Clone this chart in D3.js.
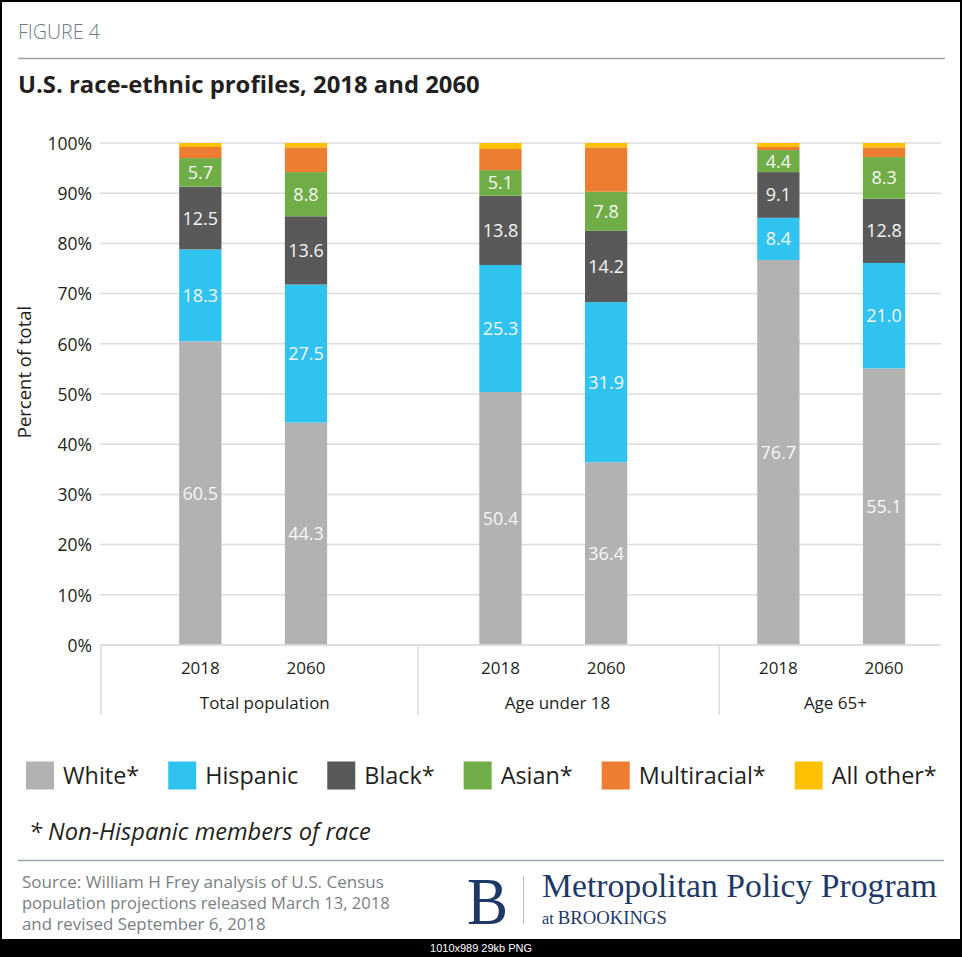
<!DOCTYPE html>
<html>
<head>
<meta charset="utf-8">
<script src="https://cdn.jsdelivr.net/npm/d3@7"></script>
<style>
  html, body { margin: 0; padding: 0; background: #fff; }
  svg { display: block; font-family: "Open Sans", sans-serif; }
</style>
</head>
<body>
<svg id="chart" width="962" height="957"></svg>
<script>
// ---------------- DATA ----------------
const groups = ["Total population", "Age under 18", "Age 65+"];
const years = ["2018", "2060"];
const seriesNames = ["White*", "Hispanic", "Black*", "Asian*", "Multiracial*", "All other*"];
// values in order: Total 2018, Total 2060, U18 2018, U18 2060, 65+ 2018, 65+ 2060
const white       = [60.5, 44.3, 50.4, 36.4, 76.7, 55.1];
const hispanic    = [18.3, 27.5, 25.3, 31.9, 8.4, 21.0];
const black       = [12.5, 13.6, 13.8, 14.2, 9.1, 12.8];
const asian       = [5.7, 8.8, 5.1, 7.8, 4.4, 8.3];
const multiracial = [2.2, 4.9, 4.2, 8.8, 0.6, 1.9];
const allOther    = [0.8, 0.9, 1.2, 0.9, 0.8, 0.9];
const yTicks = [0, 10, 20, 30, 40, 50, 60, 70, 80, 90, 100];
const labeledSeries = ["White*", "Hispanic", "Black*", "Asian*"];

// ---------------- STYLE / LAYOUT ----------------
const colors = ["#b2b2b2", "#31c3f0", "#595959", "#70ad47", "#ed7d31", "#ffc000"];
const textDark = "#231f20";
const gridColor = "#dcdcdc";
const serif = "'Liberation Serif', 'DejaVu Serif', serif";
const plot = { left: 101, right: 939, top: 143, bottom: 645 };
// group widths and bar-pair centers expressed in "bar step" units
const groupSlots = [3.0, 2.85, 2.08];
const pairCenter = [1.44, 1.28, 1.06];
const labelShift = [0.11, 0.04, 0.04];

const svg = d3.select("#chart");

function fit(sel, w) {
  const fs = +sel.attr("font-size");
  const len = sel.node().getComputedTextLength();
  sel.attr("font-size", fs * w / len);
  return sel;
}

// Build rows
const cols = [white, hispanic, black, asian, multiracial, allOther];
const rows = [];
groups.forEach((g, gi) => years.forEach((yr, yi) => {
  const idx = gi * 2 + yi;
  const r = { group: g, year: yr };
  seriesNames.forEach((s, si) => r[s] = cols[si][idx]);
  rows.push(r);
}));

// Scales
const y = d3.scaleLinear().domain([0, 100]).range([plot.bottom, plot.top]);
const totalSlots = d3.sum(groupSlots);
const xs = d3.scaleLinear().domain([0, totalSlots]).range([plot.left, plot.right]);
const groupStart = groupSlots.map((d, i) => d3.sum(groupSlots.slice(0, i)));
const inner = groups.map((g, i) => d3.scaleBand()
  .domain(years)
  .range([xs(groupStart[i] + pairCenter[i] - 1), xs(groupStart[i] + pairCenter[i] + 1)])
  .paddingInner(0.6).paddingOuter(0.3));
const color = d3.scaleOrdinal().domain(seriesNames).range(colors);
const xOf = d => inner[groups.indexOf(d.group)](d.year);
const bw = inner[0].bandwidth();

// Background
svg.append("rect").attr("x", 0).attr("y", 0).attr("width", 962).attr("height", 957).attr("fill", "#fff");

// Header
fit(svg.append("text").attr("x", 18).attr("y", 39).attr("font-size", 19)
  .attr("fill", "#6f7b82").attr("font-weight", 300).text("FIGURE 4"), 82);
svg.append("line").attr("x1", 18).attr("x2", 945).attr("y1", 58.5).attr("y2", 58.5)
  .attr("stroke", "#9ba4a9").attr("stroke-width", 1.5);
fit(svg.append("text").attr("x", 18).attr("y", 93).attr("font-size", 21)
  .attr("font-weight", 700).attr("fill", textDark)
  .text("U.S. race-ethnic profiles, 2018 and 2060"), 462);

// Gridlines
svg.append("g").selectAll("line").data(yTicks).join("line")
  .attr("x1", plot.left - 1).attr("x2", plot.right + 2)
  .attr("y1", d => y(d)).attr("y2", d => y(d))
  .attr("stroke", gridColor).attr("stroke-width", 1.5);

// Y axis via d3 axis (labels only)
const yAxis = svg.append("g").attr("transform", `translate(${plot.left - 9},0)`)
  .call(d3.axisLeft(y).tickValues(yTicks).tickFormat(d => d + "%").tickSize(0));
yAxis.select(".domain").remove();
yAxis.selectAll("text").style("font-family", "'Open Sans', sans-serif").attr("font-size", 17.5)
  .attr("fill", textDark).attr("dx", 0).attr("dy", "0.36em").attr("x", 0);

svg.append("text").attr("transform", "translate(31,372) rotate(-90)")
  .attr("text-anchor", "middle").attr("font-size", 18.5).attr("fill", textDark)
  .text("Percent of total");

// Category axis lines
const dividers = groupStart.map(d => xs(d));
svg.append("g").selectAll("line").data(dividers).join("line")
  .attr("x1", d => d).attr("x2", d => d).attr("y1", plot.bottom).attr("y2", 715)
  .attr("stroke", gridColor).attr("stroke-width", 1.5);

// Stacked bars
const stack = d3.stack().keys(seriesNames);
const layers = stack(rows);
const gBars = svg.append("g");
layers.forEach(layer => {
  gBars.append("g").attr("fill", color(layer.key))
    .selectAll("rect").data(layer).join("rect")
    .attr("x", d => xOf(d.data)).attr("width", bw)
    .attr("y", d => y(d[1])).attr("height", d => y(d[0]) - y(d[1]));
});
// Segment labels
layers.filter(l => labeledSeries.includes(l.key)).forEach(layer => {
  gBars.append("g").selectAll("text").data(layer).join("text")
    .attr("x", d => xOf(d.data) + bw / 2)
    .attr("y", d => y((d[0] + d[1]) / 2))
    .attr("dy", "0.36em").attr("text-anchor", "middle")
    .attr("font-size", 18).attr("fill", "#f7f7f7")
    .text(d => d3.format(".1f")(d[1] - d[0]));
});

// Baseline on top
svg.append("line").attr("x1", plot.left - 1).attr("x2", plot.right + 2)
  .attr("y1", y(0)).attr("y2", y(0)).attr("stroke", gridColor).attr("stroke-width", 1.5);

// Year labels
svg.append("g").selectAll("text").data(rows).join("text")
  .attr("x", d => xOf(d) + bw / 2).attr("y", 674)
  .attr("text-anchor", "middle").attr("font-size", 17).attr("fill", textDark)
  .text(d => d.year);
// Group labels
svg.append("g").selectAll("text").data(groups).join("text")
  .attr("x", (d, i) => xs(groupStart[i] + pairCenter[i] + labelShift[i]))
  .attr("y", 709).attr("text-anchor", "middle").attr("font-size", 17).attr("fill", textDark)
  .text(d => d);

// Legend (flow layout)
const legend = svg.append("g");
const items = seriesNames.map((s, i) => {
  const g = legend.append("g");
  g.append("rect").attr("width", 28).attr("height", 28).attr("y", 761.5).attr("fill", colors[i]);
  const t = g.append("text").attr("y", 784).attr("font-size", 22).attr("fill", textDark).text(s);
  return { g, t };
});
const measured = d3.sum(items, d => d.t.node().getComputedTextLength());
const fsLegend = 22 * 544 / measured;
let lx = 26;
items.forEach(it => {
  it.t.attr("font-size", fsLegend);
  it.g.select("rect").attr("x", lx);
  it.t.attr("x", lx + 37);
  lx += 37 + it.t.node().getComputedTextLength() + 29;
});

// Footnote
fit(svg.append("text").attr("x", 29).attr("y", 840).attr("font-size", 21)
  .attr("font-style", "italic").attr("fill", textDark)
  .text("* Non-Hispanic members of race"), 342);

svg.append("line").attr("x1", 18).attr("x2", 944).attr("y1", 860.5).attr("y2", 860.5)
  .attr("stroke", "#9ba4a9").attr("stroke-width", 1.5);

// Source (each line fitted to its width in the reference)
const srcLines = ["Source: William H Frey analysis of U.S. Census",
  "population projections released March 13, 2018",
  "and revised September 6, 2018"];
const srcWidths = [362, 368, 244];
srcLines.forEach((l, i) => {
  fit(svg.append("text").attr("x", 22).attr("y", 888 + i * 21).attr("font-size", 17)
    .attr("fill", "#7b8084").text(l), srcWidths[i]);
});

// Logo
const navy = "#1f3868";
svg.append("text").attr("x", 467).attr("y", 924).style("font-family", serif)
  .attr("font-size", 68).attr("fill", navy).attr("textLength", 41)
  .attr("lengthAdjust", "spacingAndGlyphs").text("B");
svg.append("line").attr("x1", 523.5).attr("x2", 523.5).attr("y1", 876).attr("y2", 924)
  .attr("stroke", "#b8bec6").attr("stroke-width", 1);
fit(svg.append("text").attr("x", 542).attr("y", 897).style("font-family", serif)
  .attr("font-size", 30).attr("fill", navy).text("Metropolitan Policy Program"), 395);
const atB = svg.append("text").attr("x", 542).attr("y", 923.5)
  .style("font-family", serif).attr("font-size", 14).attr("fill", navy);
atB.append("tspan").attr("font-size", 13).text("at ");
atB.append("tspan").attr("font-size", 15).text("BROOKINGS");
{
  const len = atB.node().getComputedTextLength();
  atB.selectAll("tspan").attr("font-size", function() { return +d3.select(this).attr("font-size") * 125 / len; });
}

// Frame border and bottom bar
svg.append("rect").attr("x", 1).attr("y", 1).attr("width", 960).attr("height", 955)
  .attr("fill", "none").attr("stroke", "#000").attr("stroke-width", 2);
svg.append("rect").attr("x", 0).attr("y", 939).attr("width", 962).attr("height", 18).attr("fill", "#000");
fit(svg.append("text").attr("x", 481).attr("y", 952).attr("text-anchor", "middle")
  .style("font-family", "'Liberation Sans', Arial, sans-serif").attr("font-size", 11)
  .attr("fill", "#fff").text("1010x989 29kb PNG"), 102);
</script>
</body>
</html>
